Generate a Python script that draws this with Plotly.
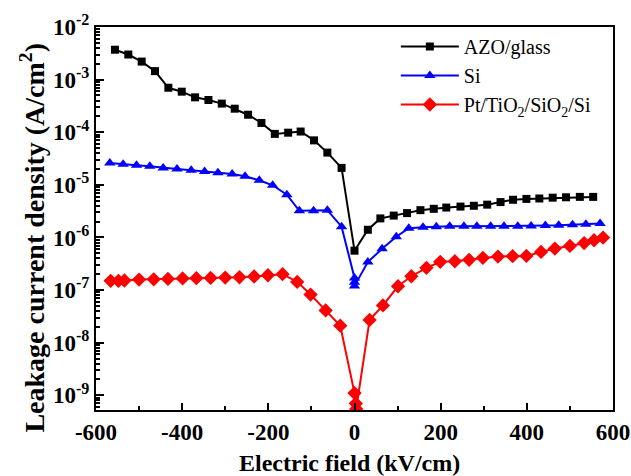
import plotly.graph_objects as go
import numpy as np

# AZO/glass
azo_x = [-556, -525, -494, -463, -432, -401, -370, -339, -308, -278, -247, -216, -185, -154, -125, -94, -63, -30,
         0, 31, 60, 91, 122, 153, 184, 213, 246, 277, 308, 339, 368, 399, 429, 460, 491, 523, 554]
azo_y = [3.7e-3, 3.0e-3, 2.2e-3, 1.45e-3, 7.0e-4, 5.9e-4, 4.6e-4, 4.1e-4, 3.5e-4, 2.8e-4, 2.15e-4, 1.5e-4,
         9.3e-5, 9.8e-5, 1.03e-4, 7.0e-5, 4.1e-5, 2.1e-5,
         5.6e-7, 1.4e-6, 2.3e-6, 2.6e-6, 2.9e-6, 3.3e-6, 3.5e-6, 3.7e-6, 3.86e-6, 4.0e-6, 4.2e-6, 4.7e-6,
         5.2e-6, 5.4e-6, 5.5e-6, 5.7e-6, 5.8e-6, 5.9e-6, 5.9e-6]

# Si
si_x = [-568, -537, -506, -475, -444, -412, -379, -348, -317, -284, -254, -221, -190, -157, -128, -95, -63, -30,
        0, 0, 0, 31, 64, 97, 126, 159, 190, 221, 254, 284, 316, 347, 379, 410, 443, 474, 506, 537, 570]
si_y = [2.6e-5, 2.45e-5, 2.35e-5, 2.25e-5, 2.1e-5, 2.0e-5, 1.9e-5, 1.8e-5, 1.7e-5, 1.6e-5, 1.45e-5, 1.22e-5,
        9.8e-6, 6.5e-6, 3.2e-6, 3.2e-6, 3.3e-6, 1.6e-6,
        1.7e-7, 1.4e-7, 1.2e-7, 3.4e-7, 6.1e-7, 1.03e-6, 1.5e-6, 1.56e-6, 1.6e-6, 1.63e-6, 1.63e-6, 1.63e-6,
        1.63e-6, 1.63e-6, 1.63e-6, 1.65e-6, 1.68e-6, 1.7e-6, 1.74e-6, 1.78e-6, 1.84e-6]

# Pt/TiO2/SiO2/Si
pt_x = [-566, -548, -534, -500, -466, -433, -399, -367, -334, -300, -267, -233, -201, -167, -133, -102, -67, -33,
        0, 3, 4, 35, 66, 101, 132, 167, 199, 233, 266, 298, 333, 367, 399, 433, 465, 500, 533, 556, 577]
pt_y = [1.5e-7, 1.5e-7, 1.52e-7, 1.58e-7, 1.6e-7, 1.63e-7, 1.66e-7, 1.68e-7, 1.7e-7, 1.73e-7, 1.75e-7, 1.81e-7,
        1.91e-7, 2.0e-7, 1.43e-7, 8.2e-8, 4.1e-8, 2.1e-8,
        1.1e-9, 7.0e-10, 5.5e-10, 2.7e-8, 5.1e-8, 1.18e-7, 1.83e-7, 2.64e-7, 3.44e-7, 3.53e-7, 3.75e-7, 4.1e-7,
        4.33e-7, 4.4e-7, 4.46e-7, 5.3e-7, 6.15e-7, 6.9e-7, 7.8e-7, 8.85e-7, 9.95e-7]

y_exponents = [-9, -8, -7, -6, -5, -4, -3, -2]
x_ticks = [-600, -400, -200, 0, 200, 400, 600]

FONT = "Liberation Serif"

fig = go.Figure()
fig.add_trace(go.Scatter(x=azo_x, y=azo_y, mode="lines+markers", name="AZO/glass",
                         line=dict(color="black", width=2),
                         marker=dict(symbol="square", size=8, color="black")))
fig.add_trace(go.Scatter(x=si_x, y=si_y, mode="lines+markers", name="Si",
                         line=dict(color="#0000ff", width=2),
                         marker=dict(symbol="triangle-up", size=10, color="#0000ff")))
fig.add_trace(go.Scatter(x=pt_x, y=pt_y, mode="lines+markers", name="Pt/TiO<sub>2</sub>/SiO<sub>2</sub>/Si",
                         line=dict(color="#ff0000", width=2),
                         marker=dict(symbol="diamond", size=11, color="#ff0000")))

minor_vals = [k * 10.0 ** e for e in range(-10, -1) for k in range(2, 10)]

fig.update_layout(
    width=631, height=476,
    margin=dict(l=96, r=18, t=27, b=66),
    paper_bgcolor="white", plot_bgcolor="white",
    font=dict(family=FONT, color="black"),
    showlegend=True,
    legend=dict(x=0.58, y=1.0, xanchor="left", yanchor="top",
                bgcolor="rgba(0,0,0,0)", borderwidth=0,
                font=dict(family=FONT, size=20, color="black"),
                itemwidth=58, tracegroupgap=0),
    xaxis=dict(
        range=[-600, 600], tickmode="array", tickvals=x_ticks,
        ticktext=[str(v) for v in x_ticks],
        ticks="inside", ticklen=7, tickwidth=2, tickcolor="black",
        minor=dict(ticks="inside", ticklen=4, tickwidth=2, tickcolor="black", dtick=100, showgrid=False),
        showline=True, linecolor="black", linewidth=2, mirror=True,
        showgrid=False, zeroline=False, automargin=False,
        tickfont=dict(family=FONT, size=23, color="black", weight="bold"),
    ),
    yaxis=dict(
        type="log", range=[-9.28, -2.0], tickmode="array",
        tickvals=[10.0 ** e for e in y_exponents],
        ticktext=["<b>10<sup>%d</sup></b>" % e for e in y_exponents],
        ticks="inside", ticklen=8, tickwidth=2, tickcolor="black",
        minor=dict(ticks="inside", ticklen=4, tickwidth=1.5, tickcolor="black",
                   tickmode="array", tickvals=minor_vals, showgrid=False),
        showline=True, linecolor="black", linewidth=2, mirror=True,
        showgrid=False, zeroline=False, automargin=False,
        tickfont=dict(family=FONT, size=23, color="black", weight="bold"),
    ),
    annotations=[
        dict(text="<b>Electric field (kV/cm)</b>", xref="paper", yref="paper",
             x=0.49, y=-0.138, xanchor="center", yanchor="middle", showarrow=False,
             font=dict(family=FONT, size=24, color="black")),
        dict(text="<b>Leakage current density (A/cm<sup>2</sup>)</b>", xref="paper", yref="paper",
             x=-0.122, y=0.45, xanchor="center", yanchor="middle", showarrow=False, textangle=-90,
             font=dict(family=FONT, size=28, color="black")),
    ],
)

fig.write_html("out.html")
